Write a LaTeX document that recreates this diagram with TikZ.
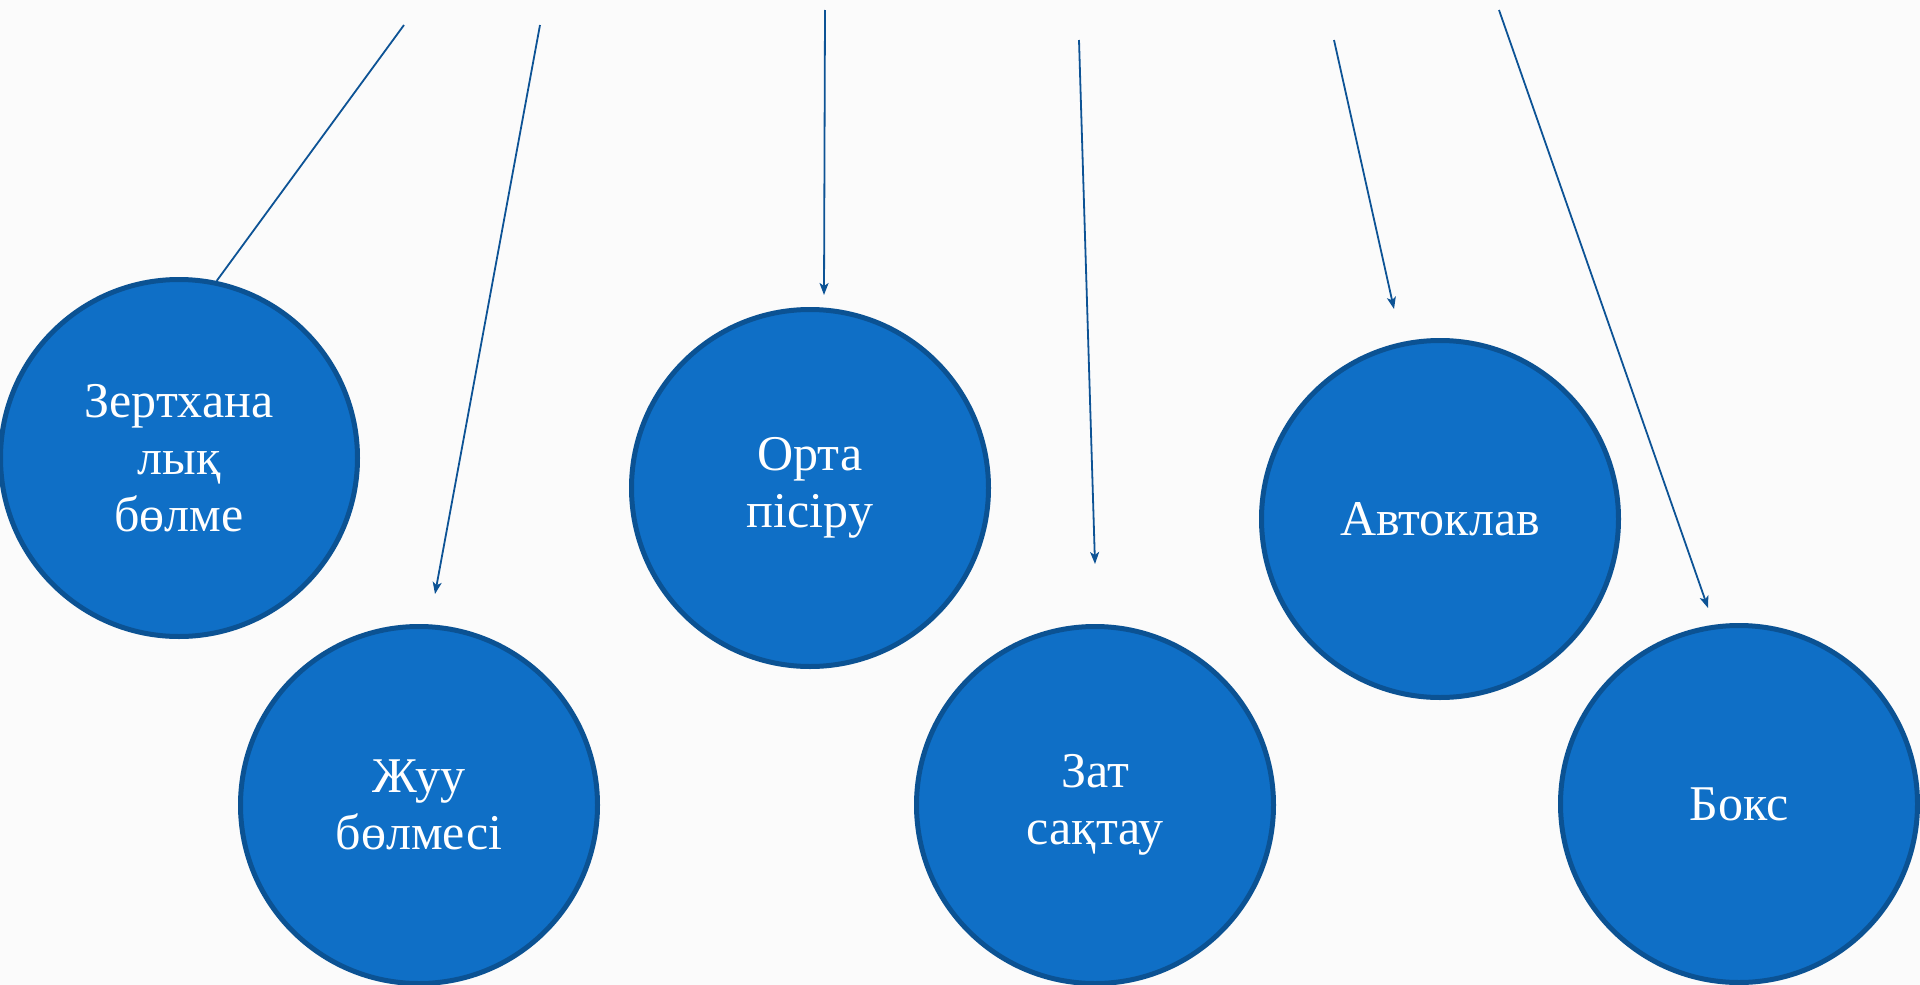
\documentclass[tikz,border=0pt]{standalone}
\usepackage{fontspec}
\setmainfont{Liberation Serif}
\usetikzlibrary{arrows.meta}
\definecolor{bubble}{HTML}{0F6FC6}
\definecolor{rim}{HTML}{0B5293}
\definecolor{wire}{HTML}{0D5395}
\definecolor{paper}{HTML}{FBFBFB}
\begin{document}
\begin{tikzpicture}[x=1pt,y=-1pt,
  room/.style={circle, draw=rim, line width=5pt, fill=bubble, minimum size=357pt,
    inner sep=0pt, text=white, align=center, font=\fontsize{50}{57}\selectfont},
  feed/.style={draw=wire, line width=1.8pt, -{Stealth[length=12pt,width=9pt,inset=3pt]}},
  plain/.style={draw=wire, line width=1.8pt}]
\useasboundingbox (0,0) rectangle (1920,985);
\fill[paper] (0,0) rectangle (1920,985);

\node[room] (c1) at (179,458) {Зертхана\\лық\\бөлме};
\node[room] (c2) at (419,805) {Жуу\\бөлмесі};
\node[room] (c3) at (810,488) {Орта\\пісіру};
\node[room] (c4) at (1095,805) {Зат\\сақтау};
\node[room] (c5) at (1440,519) {Автоклав};
\node[room] (c6) at (1739,804) {Бокс};

\coordinate (s1) at (404,25);
\coordinate (s2) at (540,25);
\coordinate (e2) at (435,594);
\coordinate (s3) at (825,10);
\coordinate (e3) at (824,295);
\coordinate (s4) at (1079,40);
\coordinate (e4) at (1095,564);
\coordinate (s5) at (1334,40);
\coordinate (e5) at (1394,309);
\coordinate (s6) at (1499,10);
\coordinate (e6) at (1708,608);

\draw[plain] (s1) -- (c1.78.6);
\draw[feed] (s2) -- (e2);
\draw[feed] (s3) -- (e3);
\draw[feed] (s4) -- (e4);
\draw[feed] (s5) -- (e5);
\draw[feed] (s6) -- (e6);
\end{tikzpicture}
\end{document}
